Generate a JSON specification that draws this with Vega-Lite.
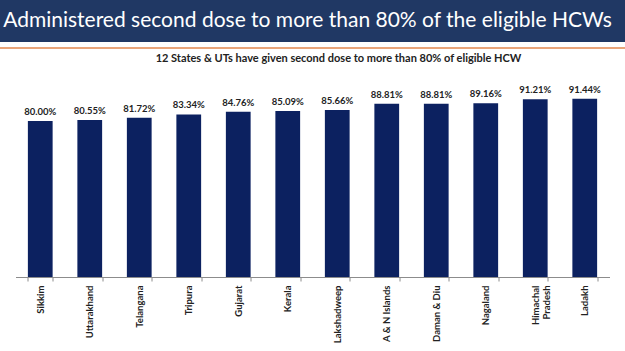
{
  "$schema": "https://vega.github.io/schema/vega-lite/v6.json",
  "padding": 0,
  "background": "white",
  "spacing": 0,
  "center": true,
  "config": {"view": {"stroke": null}},
  "vconcat": [
    {
      "spacing": 0,
      "vconcat": [
        {
          "width": 625,
          "height": 42,
          "view": {"fill": "#203864", "stroke": null},
          "data": {"values": [{"t": "Administered second dose to more than 80% of the eligible HCWs"}]},
          "mark": {"type": "text", "font": "Lato", "fontSize": 21, "color": "white", "dx": -5},
          "encoding": {"text": {"field": "t"}}
        },
        {
          "width": 625,
          "height": 2,
          "view": {"fill": "#e9a57a", "stroke": null},
          "data": {"values": [{"t": ""}]},
          "mark": {"type": "text"},
          "encoding": {"text": {"field": "t"}}
        }
      ]
    },
    {
      "width": 594,
      "height": 195,
      "title": {
        "text": "12 States & UTs have given second dose to more than 80% of eligible HCW",
        "font": "Lato",
        "fontSize": 11,
        "fontWeight": "bold",
        "color": "#222222",
        "anchor": "middle",
        "dx": 26,
        "offset": 18
      },
      "data": {"values": [
        {"state": "Sikkim", "share": 0.8000},
        {"state": "Uttarakhand", "share": 0.8055},
        {"state": "Telangana", "share": 0.8172},
        {"state": "Tripura", "share": 0.8334},
        {"state": "Gujarat", "share": 0.8476},
        {"state": "Kerala", "share": 0.8509},
        {"state": "Lakshadweep", "share": 0.8566},
        {"state": "A & N Islands", "share": 0.8881},
        {"state": "Daman & Diu", "share": 0.8881},
        {"state": "Nagaland", "share": 0.8916},
        {"state": "Himachal Pradesh", "share": 0.9121},
        {"state": "Ladakh", "share": 0.9144}
      ]},
      "encoding": {
        "x": {
          "field": "state", "type": "nominal", "sort": null,
          "scale": {"paddingInner": 0.5, "paddingOuter": 0.25},
          "axis": {
            "title": null,
            "labelAngle": -90,
            "labelFont": "Lato",
            "labelFontSize": 9.5,
            "labelFontWeight": "bold",
            "labelColor": "#222222",
            "labelPadding": 4,
            "labelExpr": "datum.label == 'Himachal Pradesh' ? ['Himachal', 'Pradesh'] : datum.label",
            "tickBand": "extent",
            "domainColor": "#8c8c8c",
            "tickColor": "#8c8c8c",
            "tickSize": 4
          }
        },
        "y": {
          "field": "share", "type": "quantitative",
          "scale": {"domain": [0, 1]},
          "axis": null
        }
      },
      "layer": [
        {"mark": {"type": "bar", "color": "#0c2160"}},
        {
          "mark": {"type": "text", "baseline": "bottom", "dy": -4, "font": "Lato", "fontSize": 9.5, "fontWeight": "bold", "color": "#222222"},
          "encoding": {"text": {"field": "share", "type": "quantitative", "format": ".2%"}}
        }
      ]
    }
  ]
}
